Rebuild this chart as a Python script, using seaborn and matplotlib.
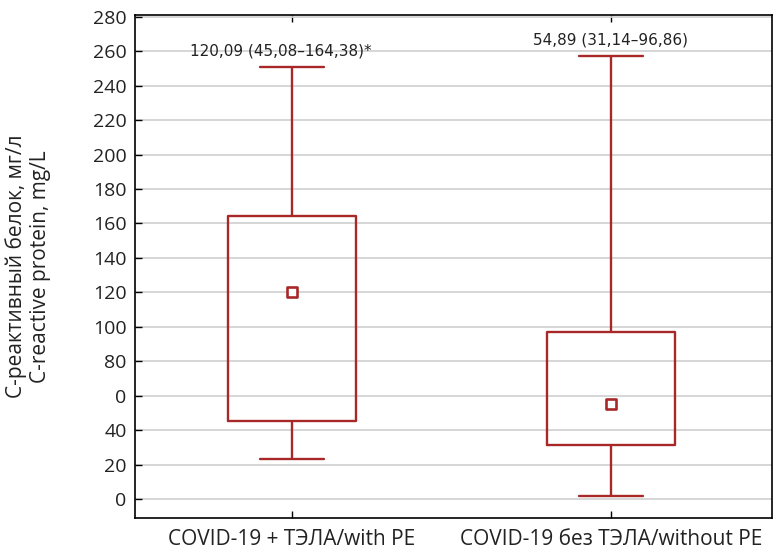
import numpy as np
import pandas as pd
import matplotlib
matplotlib.use('Agg')
import matplotlib.pyplot as plt
import seaborn as sns

sns.set_theme(style='white')
plt.rcParams['font.family'] = ['Open Sans', 'DejaVu Sans']

# groups and five-number summaries
groups = ['COVID-19 + ТЭЛА/with PE', 'COVID-19 без ТЭЛА/without PE']
whisker_low = [23, 1.5]
q1 = [45.08, 31.14]
median = [120.09, 54.89]
q3 = [164.38, 96.86]
whisker_high = [251, 257]
notes = ['120,09 (45,08–164,38)*', '54,89 (31,14–96,86)']

yticks = [0, 20, 40, 60, 80, 100, 120, 140, 160, 180, 200, 220, 240, 260, 280]
ytick_labels = ['0', '20', '40', '0', '80', '100', '120', '140', '160', '180',
                '200', '220', '240', '260', '280']

red = '#a8282a'

# five points per group -> quartiles land exactly on the summary values
rows = []
for i, g in enumerate(groups):
    for v in [whisker_low[i], q1[i], median[i], q3[i], whisker_high[i]]:
        rows.append({'group': g, 'crp': v})
df = pd.DataFrame(rows)
med_df = pd.DataFrame({'group': groups, 'crp': median})

fig = plt.figure(figsize=(7.73, 5.49), dpi=100)
ax = fig.add_axes([0.1746, 0.0565, 0.8241, 0.9162])

ax.yaxis.grid(True, color='#d0d0d0', linewidth=1.2)
ax.set_axisbelow(True)

sns.boxplot(data=df, x='group', y='crp', order=groups, whis=(0, 100),
            width=0.4, fill=False, showfliers=False, ax=ax, color=red,
            linewidth=1.7, medianprops=dict(visible=False))

# median shown as small open square
sns.scatterplot(data=med_df, x='group', y='crp', marker='s', s=48,
                facecolor='white', edgecolor=red, linewidth=1.9,
                ax=ax, zorder=5, legend=False)

offsets = [-0.035, 0.0]
for i, txt in enumerate(notes):
    ax.text(i + offsets[i], whisker_high[i] + 5, txt, ha='center', va='bottom',
            fontsize=11, family=['Liberation Sans Narrow', 'DejaVu Sans'],
            color='#222222')

ax.set_xlim(-0.492, 1.505)
ax.set_ylim(-11, 281)
ax.set_yticks(yticks)
ax.set_yticklabels(ytick_labels)
ax.set_xlabel('')
ax.set_ylabel('С-реактивный белок, мг/л\nC-reactive protein, mg/L',
              fontsize=15, color='#222222', linespacing=1.15)
ax.yaxis.set_label_coords(-0.132, 0.5)

for s in ax.spines.values():
    s.set_color('black')
    s.set_linewidth(1.2)
ax.tick_params(axis='both', direction='in', length=5, width=1,
               color='black', labelcolor='#222222',
               top=True, left=True, bottom=True, pad=6)
ax.tick_params(axis='y', labelsize=14)
ax.tick_params(axis='x', labelsize=15, pad=8)

fig.savefig('out.png', dpi=100)
